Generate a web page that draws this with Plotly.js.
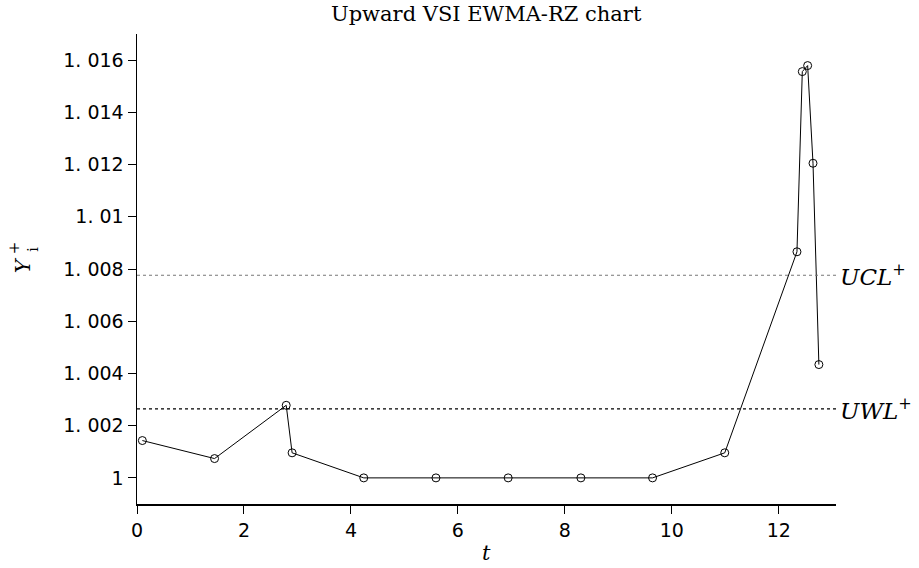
<!DOCTYPE html>
<html>
<head>
<meta charset="utf-8">
<script src="https://cdn.plot.ly/plotly-3.0.1.min.js"></script>
<style>html,body{margin:0;padding:0;background:#fff}#chart{width:919px;height:568px}</style>
</head>
<body>
<div id="chart"></div>
<script>
const tValues = [0.10, 1.45, 2.79, 2.90, 4.24, 5.59, 6.94, 8.30, 9.64, 10.99, 12.34, 12.44, 12.54, 12.64, 12.75];
const yValues = [1.00143, 1.00074, 1.00278, 1.00096, 1.0, 1.0, 1.0, 1.0, 1.0, 1.00096, 1.00866, 1.01556, 1.01579, 1.01205, 1.00434];
const UCL = 1.00776;
const UWL = 1.00264;
const yTickVals = [1, 1.002, 1.004, 1.006, 1.008, 1.01, 1.012, 1.014, 1.016];
const yTickText = ["1", "1. 002", "1. 004", "1. 006", "1. 008", "1. 01", "1. 012", "1. 014", "1. 016"];
const xTickVals = [0, 2, 4, 6, 8, 10, 12];

const serif = "DejaVu Serif, serif";
const data = [{
  x: tValues, y: yValues, type: 'scatter', mode: 'lines+markers',
  line: {color: '#000', width: 1},
  marker: {symbol: 'circle-open', size: 8, color: '#000', line: {width: 1, color: '#000'}},
  showlegend: false, hoverinfo: 'skip'
}];

const layout = {
  width: 919, height: 568,
  margin: {l: 137, r: 83, t: 34, b: 64},
  paper_bgcolor: '#fff', plot_bgcolor: '#fff',
  title: {text: 'Upward VSI EWMA-RZ chart', font: {family: serif, size: 21, color: '#000'}, x: 0.529, xanchor: 'center', y: 0.976, yanchor: 'middle'},
  xaxis: {
    range: [0, 13.07], tickvals: xTickVals, ticks: 'outside', ticklen: 8, tickwidth: 1, tickcolor: '#000',
    showline: true, linecolor: '#000', linewidth: 2, showgrid: false, zeroline: false,
    tickfont: {family: 'DejaVu Sans', size: 19, color: '#000'}, fixedrange: true
  },
  yaxis: {
    range: [0.999, 1.017], tickvals: yTickVals, ticktext: yTickText, ticks: 'outside', ticklen: 8, tickwidth: 1, tickcolor: '#000',
    showline: true, linecolor: '#000', linewidth: 1.5, showgrid: false, zeroline: false,
    tickfont: {family: 'DejaVu Sans', size: 19, color: '#000'}, fixedrange: true
  },
  shapes: [
    {type: 'line', xref: 'paper', yref: 'y', x0: 0, x1: 1.003, y0: UCL, y1: UCL, line: {color: '#777', width: 1.2, dash: 'dot'}},
    {type: 'line', xref: 'paper', yref: 'y', x0: 0, x1: 1.003, y0: UWL, y1: UWL, line: {color: '#000', width: 1.2, dash: 'dot'}}
  ],
  annotations: [
    {xref: 'paper', yref: 'y', x: 1.003, y: UCL, xanchor: 'left', yanchor: 'middle', showarrow: false,
     text: '<i>UCL</i><sup>+</sup>', font: {family: serif, size: 23, color: '#000'}},
    {xref: 'paper', yref: 'y', x: 1.003, y: UWL, xanchor: 'left', yanchor: 'middle', showarrow: false,
     text: '<i>UWL</i><sup>+</sup>', font: {family: serif, size: 23, color: '#000'}},
    {xref: 'paper', yref: 'paper', x: 0.5, y: -0.105, xanchor: 'center', yanchor: 'middle', showarrow: false,
     text: '<i>t</i>', font: {family: serif, size: 21, color: '#000'}},
    {xref: 'paper', yref: 'paper', x: -0.163, y: 0.508, xanchor: 'center', yanchor: 'middle', showarrow: false, textangle: -90,
     text: '<i>Y</i>', font: {family: serif, size: 21, color: '#000'}},
    {xref: 'paper', yref: 'paper', x: -0.176, y: 0.546, xanchor: 'center', yanchor: 'middle', showarrow: false, textangle: -90,
     text: '+', font: {family: serif, size: 15, color: '#000'}},
    {xref: 'paper', yref: 'paper', x: -0.149, y: 0.543, xanchor: 'center', yanchor: 'middle', showarrow: false, textangle: -90,
     text: 'i', font: {family: serif, size: 14, color: '#000'}}
  ]
};
Plotly.newPlot('chart', data, layout, {displayModeBar: false, staticPlot: true});
</script>
</body>
</html>
